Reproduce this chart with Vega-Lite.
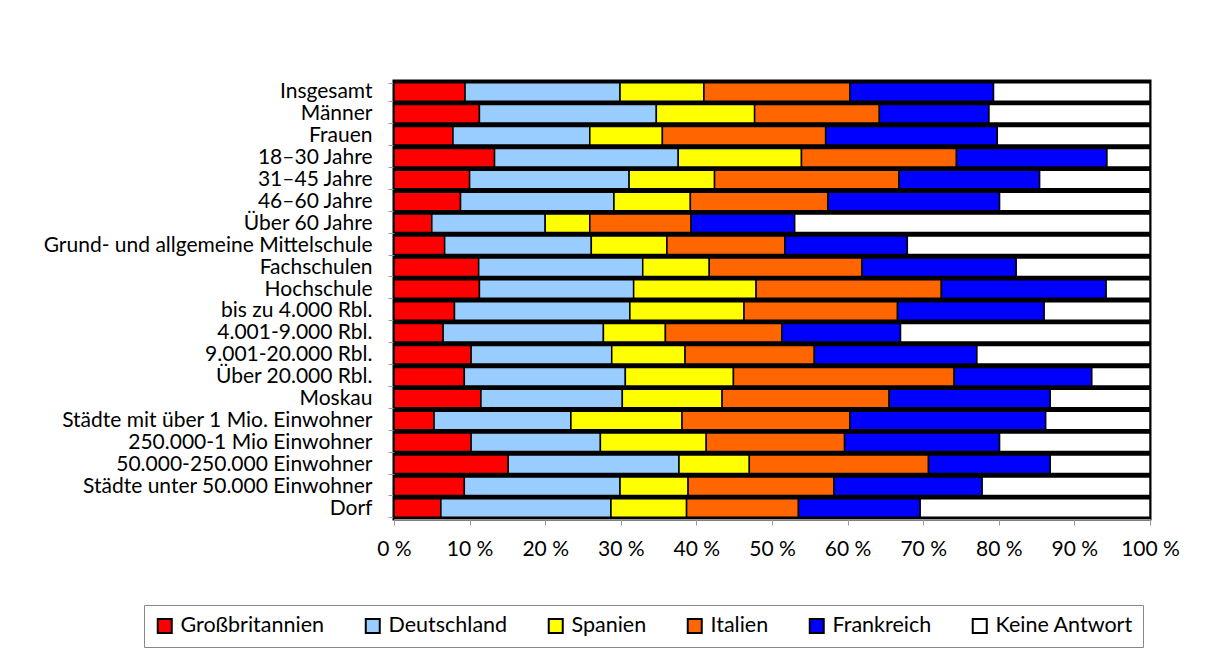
{
  "$schema": "https://vega.github.io/schema/vega-lite/v6.json",
  "autosize": {"type": "none"},
  "width": 756,
  "height": 438,
  "padding": {"left": 394, "top": 81, "right": 58, "bottom": 152},
  "background": "white",
  "config": {
    "font": "Lato",
    "view": {"fill": "black", "stroke": "black", "strokeWidth": 3}
  },
  "data": {
    "values": [
      {"Gruppe": "Insgesamt", "Großbritannien": 9.4, "Deutschland": 20.5, "Spanien": 11.1, "Italien": 19.3, "Frankreich": 19.0, "Keine Antwort": 20.7},
      {"Gruppe": "Männer", "Großbritannien": 11.3, "Deutschland": 23.4, "Spanien": 13.0, "Italien": 16.5, "Frankreich": 14.5, "Keine Antwort": 21.3},
      {"Gruppe": "Frauen", "Großbritannien": 7.8, "Deutschland": 18.1, "Spanien": 9.6, "Italien": 21.6, "Frankreich": 22.7, "Keine Antwort": 20.2},
      {"Gruppe": "18–30 Jahre", "Großbritannien": 13.3, "Deutschland": 24.3, "Spanien": 16.3, "Italien": 20.5, "Frankreich": 19.9, "Keine Antwort": 5.7},
      {"Gruppe": "31–45 Jahre", "Großbritannien": 10.0, "Deutschland": 21.1, "Spanien": 11.3, "Italien": 24.4, "Frankreich": 18.6, "Keine Antwort": 14.6},
      {"Gruppe": "46–60 Jahre", "Großbritannien": 8.8, "Deutschland": 20.3, "Spanien": 10.1, "Italien": 18.2, "Frankreich": 22.7, "Keine Antwort": 19.9},
      {"Gruppe": "Über 60 Jahre", "Großbritannien": 5.0, "Deutschland": 15.0, "Spanien": 5.9, "Italien": 13.4, "Frankreich": 13.7, "Keine Antwort": 47.0},
      {"Gruppe": "Grund- und allgemeine Mittelschule", "Großbritannien": 6.7, "Deutschland": 19.4, "Spanien": 10.0, "Italien": 15.6, "Frankreich": 16.2, "Keine Antwort": 32.1},
      {"Gruppe": "Fachschulen", "Großbritannien": 11.2, "Deutschland": 21.7, "Spanien": 8.8, "Italien": 20.2, "Frankreich": 20.4, "Keine Antwort": 17.7},
      {"Gruppe": "Hochschule", "Großbritannien": 11.3, "Deutschland": 20.4, "Spanien": 16.2, "Italien": 24.5, "Frankreich": 21.8, "Keine Antwort": 5.8},
      {"Gruppe": "bis zu 4.000 Rbl.", "Großbritannien": 8.0, "Deutschland": 23.2, "Spanien": 15.1, "Italien": 20.3, "Frankreich": 19.4, "Keine Antwort": 14.0},
      {"Gruppe": "4.001-9.000 Rbl.", "Großbritannien": 6.5, "Deutschland": 21.2, "Spanien": 8.2, "Italien": 15.4, "Frankreich": 15.7, "Keine Antwort": 33.0},
      {"Gruppe": "9.001-20.000 Rbl.", "Großbritannien": 10.2, "Deutschland": 18.6, "Spanien": 9.7, "Italien": 17.1, "Frankreich": 21.5, "Keine Antwort": 22.9},
      {"Gruppe": "Über 20.000 Rbl.", "Großbritannien": 9.3, "Deutschland": 21.3, "Spanien": 14.3, "Italien": 29.2, "Frankreich": 18.2, "Keine Antwort": 7.7},
      {"Gruppe": "Moskau", "Großbritannien": 11.5, "Deutschland": 18.7, "Spanien": 13.2, "Italien": 22.1, "Frankreich": 21.3, "Keine Antwort": 13.2},
      {"Gruppe": "Städte mit über 1 Mio. Einwohner", "Großbritannien": 5.3, "Deutschland": 18.1, "Spanien": 14.7, "Italien": 22.2, "Frankreich": 25.9, "Keine Antwort": 13.8},
      {"Gruppe": "250.000-1 Mio Einwohner", "Großbritannien": 10.2, "Deutschland": 17.1, "Spanien": 14.0, "Italien": 18.3, "Frankreich": 20.5, "Keine Antwort": 19.9},
      {"Gruppe": "50.000-250.000 Einwohner", "Großbritannien": 15.1, "Deutschland": 22.6, "Spanien": 9.3, "Italien": 23.7, "Frankreich": 16.1, "Keine Antwort": 13.2},
      {"Gruppe": "Städte unter 50.000 Einwohner", "Großbritannien": 9.3, "Deutschland": 20.6, "Spanien": 9.0, "Italien": 19.3, "Frankreich": 19.6, "Keine Antwort": 22.2},
      {"Gruppe": "Dorf", "Großbritannien": 6.2, "Deutschland": 22.5, "Spanien": 10.0, "Italien": 14.8, "Frankreich": 16.1, "Keine Antwort": 30.4}
    ]
  },
  "transform": [
    {"fold": ["Großbritannien", "Deutschland", "Spanien", "Italien", "Frankreich", "Keine Antwort"], "as": ["Land", "Anteil"]},
    {"calculate": "indexof(['Großbritannien', 'Deutschland', 'Spanien', 'Italien', 'Frankreich', 'Keine Antwort'], datum.Land)", "as": "Reihenfolge"}
  ],
  "mark": {"type": "bar", "stroke": "black", "strokeWidth": 1.5, "strokeOpacity": 1},
  "encoding": {
    "y": {
      "field": "Gruppe",
      "type": "nominal",
      "sort": null,
      "scale": {"paddingInner": 0.155, "paddingOuter": 0.0775},
      "axis": {
        "title": null,
        "domain": false,
        "ticks": true,
        "tickBand": "extent",
        "tickColor": "#999999",
        "tickSize": 6,
        "labelFontSize": 21,
        "labelColor": "black",
        "labelPadding": 16,
        "labelLimit": 400,
        "labelOverlap": false
      }
    },
    "x": {
      "field": "Anteil",
      "type": "quantitative",
      "stack": "normalize",
      "scale": {"domain": [0, 1], "nice": false},
      "axis": {
        "title": null,
        "values": [0, 0.1, 0.2, 0.3, 0.4, 0.5, 0.6, 0.7, 0.8, 0.9, 1],
        "labelExpr": "format(datum.value * 100, 'd') + ' %'",
        "grid": false,
        "domain": true,
        "domainColor": "#999999",
        "tickColor": "#999999",
        "tickSize": 6,
        "labelFontSize": 21,
        "labelColor": "black",
        "labelPadding": 13,
        "labelOverlap": false,
        "labelFlush": false
      }
    },
    "order": {"field": "Reihenfolge", "type": "quantitative", "sort": "ascending"},
    "color": {
      "field": "Land",
      "type": "nominal",
      "sort": ["Großbritannien", "Deutschland", "Spanien", "Italien", "Frankreich", "Keine Antwort"],
      "scale": {
        "domain": ["Großbritannien", "Deutschland", "Spanien", "Italien", "Frankreich", "Keine Antwort"],
        "range": ["#FF0000", "#99CCFF", "#FFFF00", "#FF6600", "#0000FF", "#FFFFFF"]
      },
      "legend": {
        "title": null,
        "orient": "none",
        "direction": "horizontal",
        "legendX": -250,
        "legendY": 524,
        "symbolType": "square",
        "symbolSize": 196,
        "symbolStrokeColor": "black",
        "symbolStrokeWidth": 2,
        "symbolOpacity": 1,
        "labelFontSize": 21.5,
        "labelColor": "black",
        "labelOffset": 5,
        "columnPadding": 36,
        "padding": 10,
        "strokeColor": "#888888",
        "fillColor": "white",
        "labelLimit": 300
      }
    }
  }
}
